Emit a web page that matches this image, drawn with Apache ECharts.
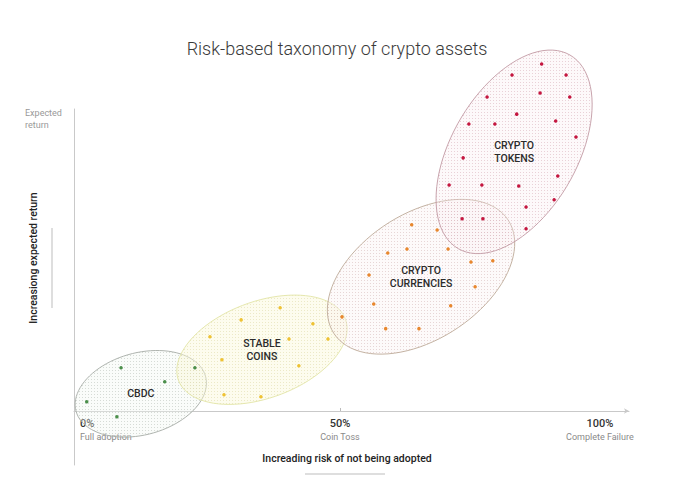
<!doctype html>
<html lang="en">
<head>
    <meta charset="UTF-8">
    <title>Risk-based taxonomy of crypto assets</title>
    <script src="https://cdn.jsdelivr.net/npm/echarts@6/dist/echarts.min.js"></script>
</head>
<body style="margin:0;background:#fff">
<div id="main" style="width:674px;height:499px;"></div>
<script>
    // x = risk of not being adopted (%), y = expected return (relative)
    var groupNames = ['CBDC', 'STABLE\nCOINS', 'CRYPTO\nCURRENCIES', 'CRYPTO\nTOKENS'];
    var groupCentres = [[11.7, 5.6], [35, 20.2], [65.6, 44.4], [83.5, 85.8]];
    var groupAxes = [[12.9, 7.9], [17.1, 9.3], [20, 12.1], [21.5, 12.1]]; // semi axes, in x units
    var groupTilt = [15, 20, 33, 60]; // degrees

    var cbdcPoints = [[1.3, 3.0], [7.9, 14.2], [16.3, 9.6], [22.1, 14.2], [7.1, -2.0]];
    var stablePoints = [[38.5, 34.1], [31.0, 30.1], [44.8, 28.8], [25.0, 24.5], [40.2, 23.8],
        [47.7, 23.8], [27.3, 16.9], [42.1, 14.9], [27.7, 5.3], [34.8, 4.6]];
    var currencyPoints = [[63.8, 61.6], [68.7, 59.9], [59.2, 52.3], [62.9, 53.6], [70.8, 53.6],
        [75.2, 49.3], [79.4, 49.7], [55.6, 45.0], [76.0, 41.1], [56.5, 35.4], [71.3, 34.8],
        [50.4, 31.1], [58.8, 27.2], [65.2, 27.2]];
    var tokenPoints = [[88.8, 114.9], [83.1, 111.3], [93.5, 111.3], [88.5, 105.3], [78.3, 104.0],
        [94.2, 104.0], [84.0, 98.3], [74.8, 95.0], [79.8, 95.0], [91.5, 96.0], [95.4, 90.7],
        [73.7, 83.8], [91.9, 77.8], [71.0, 74.8], [77.3, 74.8], [84.4, 74.5], [91.2, 69.9],
        [85.8, 67.5], [73.5, 63.6], [77.5, 63.6], [85.8, 60.3]];

    var xTicks = [0, 50, 100];
    var xTickTitles = ['0%', '50%', '100%'];
    var xTickNotes = ['Full adoption', 'Coin Toss', 'Complete Failure'];

    var dotColors = ['#4b8f4b', '#eec234', '#e8872e', '#c4163f'];
    var strokes = ['#a6aca6', '#e2e4a6', '#bdaa98', '#c29aa4'];

    // small dotted texture like the printed halftone
    function dots(bg, dot) {
        var c = document.createElement('canvas');
        c.width = 3; c.height = 3;
        var g = c.getContext('2d');
        g.fillStyle = bg;
        g.fillRect(0, 0, 3, 3);
        g.fillStyle = dot;
        g.fillRect(1, 1, 1, 1);
        return {image: c, repeat: 'repeat'};
    }
    var fills = [
        dots('rgba(242,246,242,0.35)', 'rgba(170,180,170,0.45)'),
        dots('rgba(250,248,218,0.45)', 'rgba(220,214,160,0.5)'),
        dots('rgba(248,238,238,0.3)', 'rgba(205,170,170,0.45)'),
        dots('rgba(248,234,238,0.3)', 'rgba(208,160,172,0.45)')
    ];

    var groupData = groupCentres.map(function (c, i) {
        return [c[0], c[1], groupAxes[i][0], groupAxes[i][1], groupTilt[i]];
    });

    function pointSeries(data, color) {
        return {
            type: 'scatter',
            data: data,
            symbolSize: 3.5,
            clip: false,
            silent: true,
            z: 3,
            itemStyle: {color: color, opacity: 1}
        };
    }

    var myChart = echarts.init(document.getElementById('main'), null, {renderer: 'svg'});
    myChart.setOption({
        animation: false,
        title: {
            text: 'Risk-based taxonomy of crypto assets',
            left: 'center',
            top: 34,
            textStyle: {fontFamily: 'Roboto', fontWeight: 300, fontSize: 18, color: '#3a3a3a'}
        },
        grid: {left: 74, right: 45, top: 109, bottom: 34},
        xAxis: {
            type: 'value',
            min: -1.15,
            max: 105.6,
            offset: -54,
            splitLine: {show: false},
            axisLine: {onZero: false, lineStyle: {color: '#c9c9c9'}, symbol: ['none', 'arrow'], symbolSize: [4, 5]},
            axisTick: {customValues: [50], inside: true, length: 3, lineStyle: {color: '#bbb'}},
            axisLabel: {
                customValues: xTicks,
                alignMinLabel: 'left',
                margin: 5,
                formatter: function (v) {
                    var i = xTicks.indexOf(v);
                    return '{p|' + xTickTitles[i] + '}\n{s|' + xTickNotes[i] + '}';
                },
                rich: {
                    p: {fontFamily: 'Roboto', fontSize: 11, fontWeight: 500, color: '#333', lineHeight: 15},
                    s: {fontFamily: 'Roboto', fontSize: 9, color: '#8a8a8a', lineHeight: 12}
                }
            }
        },
        yAxis: {
            type: 'value',
            min: -18,
            max: 100,
            splitLine: {show: false},
            axisTick: {show: false},
            axisLabel: {show: false},
            axisLine: {onZero: false, lineStyle: {color: '#c9c9c9'}}
        },
        graphic: [
            {type: 'text', x: 25, y: 107, style: {text: 'Expected\nreturn', fontFamily: 'Roboto', fontSize: 9, lineHeight: 12, fill: '#999'}},
            {type: 'text', x: 33, y: 258, rotation: Math.PI / 2,
                style: {text: 'Increasiong expected return', align: 'center', verticalAlign: 'middle',
                    fontFamily: 'Roboto', fontSize: 10.5, fontWeight: 500, fill: '#222'}},
            {type: 'text', x: 347, y: 458,
                style: {text: 'Increading risk of not being adopted', align: 'center', verticalAlign: 'middle',
                    fontFamily: 'Roboto', fontSize: 10.5, fontWeight: 500, fill: '#222'}},
            {type: 'line', shape: {x1: 52, y1: 228, x2: 52, y2: 308}, style: {stroke: '#bdbdbd', lineWidth: 1}},
            {type: 'line', shape: {x1: 305, y1: 474, x2: 385, y2: 474}, style: {stroke: '#bdbdbd', lineWidth: 1}}
        ],
        series: [
            {
                type: 'custom',
                data: groupData,
                encode: {x: 0, y: 1},
                silent: true,
                z: 1,
                renderItem: function (params, api) {
                    var i = params.dataIndex;
                    var c = api.coord([api.value(0), api.value(1)]);
                    var unit = api.size([1, 1]);
                    var a = api.value(2) * unit[0];
                    var b = api.value(3) * unit[0];
                    var t = api.value(4) * Math.PI / 180;
                    var pts = [];
                    for (var k = 0; k < 90; k++) {
                        var s = k / 90 * Math.PI * 2;
                        var ex = a * Math.cos(s), ey = b * Math.sin(s);
                        pts.push([c[0] + ex * Math.cos(t) - ey * Math.sin(t),
                            c[1] - (ex * Math.sin(t) + ey * Math.cos(t))]);
                    }
                    return {
                        type: 'group',
                        children: [
                            {type: 'polygon', shape: {points: pts},
                                style: {fill: fills[i], stroke: strokes[i], lineWidth: 0.9}},
                            {type: 'text', x: c[0], y: c[1], z2: 10,
                                style: {text: groupNames[i], align: 'center', verticalAlign: 'middle',
                                    fontFamily: 'Roboto', fontSize: 10.5, fontWeight: 500, lineHeight: 13, fill: '#2b2b2b'}}
                        ]
                    };
                }
            },
            pointSeries(cbdcPoints, dotColors[0]),
            pointSeries(stablePoints, dotColors[1]),
            pointSeries(currencyPoints, dotColors[2]),
            {
                type: 'scatter',
                data: tokenPoints,
                symbolSize: 3.5,
                clip: false,
                silent: true,
                z: 3,
                itemStyle: {color: dotColors[3], opacity: 1},
                markLine: {
                    silent: true,
                    symbol: 'none',
                    label: {show: false},
                    lineStyle: {color: '#ececec', type: 'solid', width: 1},
                    data: [[{coord: [100, 0]}, {coord: [100, 117]}]]
                }
            }
        ]
    });
</script>
</body>
</html>
